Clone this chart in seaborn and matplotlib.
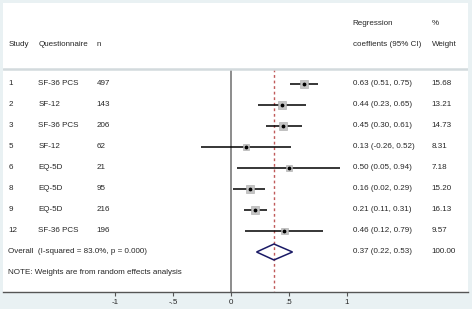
import numpy as np
import pandas as pd
import seaborn as sns
import matplotlib.pyplot as plt
from matplotlib.patches import Polygon

study = ["1", "2", "3", "5", "6", "8", "9", "12"]
questionnaire = ["SF-36 PCS", "SF-12", "SF-36 PCS", "SF-12", "EQ-5D", "EQ-5D", "EQ-5D", "SF-36 PCS"]
n = [497, 143, 206, 62, 21, 95, 216, 196]
coef = [0.63, 0.44, 0.45, 0.13, 0.50, 0.16, 0.21, 0.46]
ci_low = [0.51, 0.23, 0.30, -0.26, 0.05, 0.02, 0.11, 0.12]
ci_high = [0.75, 0.65, 0.61, 0.52, 0.94, 0.29, 0.31, 0.79]
weight = [15.68, 13.21, 14.73, 8.31, 7.18, 15.20, 16.13, 9.57]
overall = (0.37, 0.22, 0.53)
overall_label = "Overall  (I-squared = 83.0%, p = 0.000)"
note = "NOTE: Weights are from random effects analysis"
xticks = [-1, -0.5, 0, 0.5, 1]
xticklabels = ["-1", "-.5", "0", ".5", "1"]

df = pd.DataFrame({"row": np.arange(len(study)), "coef": coef, "lo": ci_low,
                   "hi": ci_high, "weight": weight})

sns.set_style("white")
plt.rcParams["font.family"] = ["Liberation Sans", "DejaVu Sans"]
fs = 5.8

fig = plt.figure(figsize=(4.72, 3.09), dpi=100, facecolor="#e9f1f3")
ax = fig.add_axes([3 / 472, 17 / 309, 465 / 472, 289 / 309])
ax.set_facecolor("white")
ax.set_xlim(-1.966, 2.043)
ax.set_ylim(9.905, -3.857)

# header
ax.axhline(-0.714, color="#d3dadd", lw=1.8)
ax.text(-1.92, -1.9, "Study", fontsize=fs, va="center")
ax.text(-1.66, -1.9, "Questionnaire", fontsize=fs, va="center")
ax.text(-1.16, -1.9, "n", fontsize=fs, va="center")
ax.text(1.05, -2.9, "Regression", fontsize=fs, va="center")
ax.text(1.05, -1.9, "coeffients (95% CI)", fontsize=fs, va="center")
ax.text(1.73, -2.9, "%", fontsize=fs, va="center")
ax.text(1.73, -1.9, "Weight", fontsize=fs, va="center")

# reference lines
ax.vlines(0, -0.714, 9.905, color="#8c8c8c", lw=1.4, zorder=1)
ax.vlines(overall[0], -0.714, 9.905, color="#c05a5a", lw=1, ls=(0, (2, 2)), zorder=1)

# studies
ax.hlines(df["row"], df["lo"], df["hi"], color="black", lw=1.1, zorder=2)
sns.scatterplot(data=df, x="coef", y="row", size="weight", sizes=(0, 42), size_norm=(0, 20),
                marker="s", color="#c4c4c4", edgecolor="#a8a8a8", linewidth=0.4,
                legend=False, ax=ax, zorder=3)
ax.scatter(df["coef"], df["row"], s=3, color="black", marker="o", zorder=4)

for i in range(len(study)):
    ax.text(-1.92, i, study[i], fontsize=fs, va="center")
    ax.text(-1.66, i, questionnaire[i], fontsize=fs, va="center")
    ax.text(-1.16, i, str(n[i]), fontsize=fs, va="center")
    ax.text(1.05, i, f"{coef[i]:.2f} ({ci_low[i]:.2f}, {ci_high[i]:.2f})", fontsize=fs, va="center")
    ax.text(1.73, i, f"{weight[i]:.2f}", fontsize=fs, va="center")

# overall
yo = len(study)
est, olo, ohi = overall
ax.add_patch(Polygon([[olo, yo], [est, yo - 0.38], [ohi, yo], [est, yo + 0.38]],
                     closed=True, fill=False, edgecolor="#1a1a66", lw=1.1, zorder=3))
ax.text(-1.92, yo, overall_label, fontsize=fs, va="center")
ax.text(1.05, yo, f"{est:.2f} ({olo:.2f}, {ohi:.2f})", fontsize=fs, va="center")
ax.text(1.73, yo, "100.00", fontsize=fs, va="center")
ax.text(-1.92, yo + 1.0, note, fontsize=fs, va="center")

# axis
for s in ["top", "left", "right"]:
    ax.spines[s].set_visible(False)
ax.spines["bottom"].set_color("#555555")
ax.spines["bottom"].set_linewidth(1)
ax.set_yticks([])
ax.set_xticks(xticks)
ax.set_xticklabels(xticklabels)
ax.tick_params(axis="x", labelsize=fs, length=3, width=0.8, color="#555555", pad=2, bottom=True)
ax.set_xlabel("")
ax.set_ylabel("")

fig.savefig("out.png", dpi=100, facecolor=fig.get_facecolor())
